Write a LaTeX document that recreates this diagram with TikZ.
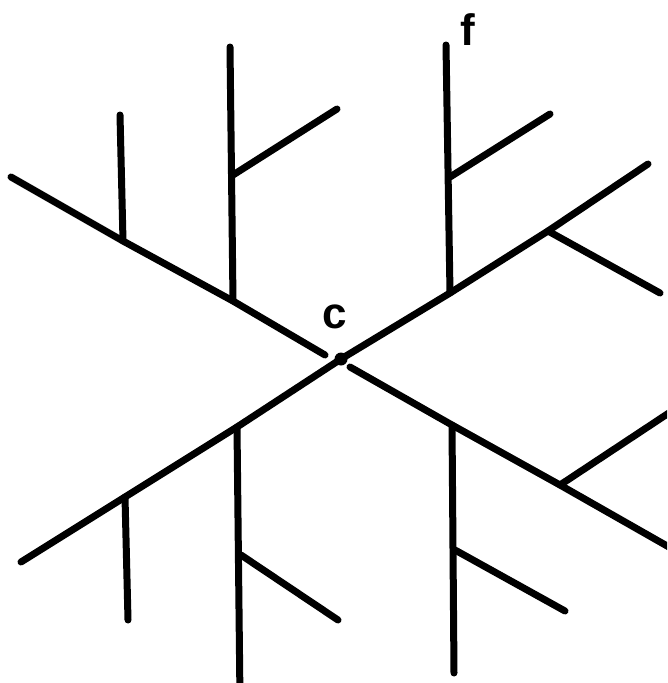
\documentclass[tikz,border=0pt]{standalone}
\usepackage{fontspec}
\setmainfont{Liberation Sans}
\begin{document}
\begin{tikzpicture}[x=1pt,y=-1pt,
  stroke/.style={line width=7pt,line cap=round,black},
  lbl/.style={font=\fontsize{44}{46}\selectfont\bfseries,inner sep=0pt,anchor=base},
  dotnode/.style={circle,fill=black,minimum size=13pt,inner sep=0pt}]
\useasboundingbox (0,0) rectangle (667,683);
\clip (0,0) rectangle (667,683);
% centre position and labels
\coordinate (cpos) at (341,359);
\node[lbl] (clabel) at (335,328) {c};
\node[lbl] (flabel) at (468,45) {f};
% main arms
\coordinate (ULend) at (11,177);
\coordinate (ULin) at (325,355);
\coordinate (URend) at (648,164);
\coordinate (LLend) at (21,562);
\coordinate (LRin) at (350,367);
\coordinate (LRend) at (690,559);
% junctions
\coordinate (ja) at (123,241);
\coordinate (jb) at (233,301);
\coordinate (jc) at (450,293);
\coordinate (jd) at (548,231);
\coordinate (je) at (560,485);
\coordinate (jf) at (452,425);
\coordinate (jg) at (125,497);
\coordinate (jh) at (237,427);
% branch ends
\coordinate (ta) at (120,115);
\coordinate (tb) at (230,47);
\coordinate (sbj) at (233,175);
\coordinate (sb) at (337,109);
\coordinate (tc) at (446,45);
\coordinate (scj) at (450,177);
\coordinate (sc) at (550,114);
\coordinate (td) at (660,293);
\coordinate (te) at (690,399);
\coordinate (tf) at (454,673);
\coordinate (sfj) at (455,550);
\coordinate (sf) at (565,611);
\coordinate (tg) at (128,620);
\coordinate (th) at (240,700);
\coordinate (shj) at (241,555);
\coordinate (sh) at (338,620);
% arms
\draw[stroke] (ULend) -- (ja) -- (jb) -- (ULin);
\draw[stroke] (LLend) -- (jg) -- (jh) -- (cpos) -- (jc) -- (jd) -- (URend);
\draw[stroke] (LRin) -- (jf) -- (je) -- (LRend);
% branches
\draw[stroke] (ja) -- (ta);
\draw[stroke] (jb) -- (tb);
\draw[stroke] (sbj) -- (sb);
\draw[stroke] (jc) -- (tc);
\draw[stroke] (scj) -- (sc);
\draw[stroke] (jd) -- (td);
\draw[stroke] (je) -- (te);
\draw[stroke] (jf) -- (tf);
\draw[stroke] (sfj) -- (sf);
\draw[stroke] (jg) -- (tg);
\draw[stroke] (jh) -- (th);
\draw[stroke] (shj) -- (sh);
% centre dot
\node[dotnode] (c) at (cpos) {};
\end{tikzpicture}
\end{document}
